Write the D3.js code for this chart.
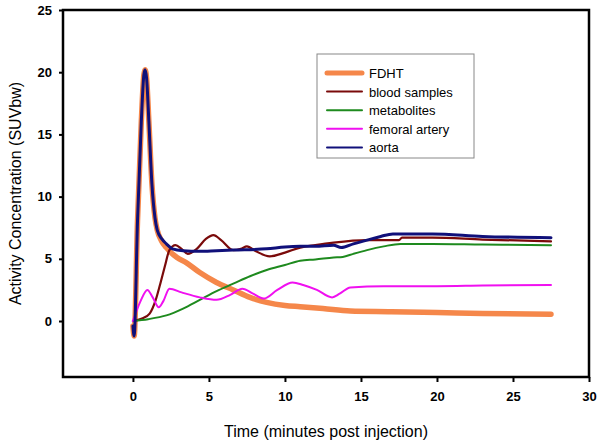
<!DOCTYPE html>
<html><head><meta charset="utf-8">
<script src="https://cdn.jsdelivr.net/npm/d3@7"></script>
<style>body{margin:0;background:#fff}svg{display:block}</style>
</head><body>
<svg id="c" width="600" height="443"></svg>
<script>
const xTicks = [0, 5, 10, 15, 20, 25, 30];
const yTicks = [0, 5, 10, 15, 20, 25];
const seriesNames = ["FDHT", "blood samples", "metabolites", "femoral artery", "aorta"];
const seriesColors = ["#F5874A", "#7A0A0A", "#1E8A1E", "#F010F0", "#10107A"];
const seriesWidths = [5.5, 2.2, 2, 2, 3];

const fdht = [[0,-0.4],[0.08,-1.2],[0.3,8],[0.55,16],[0.72,19.8],[0.8,20.2],[0.9,19.5],[1.05,16],[1.25,11],[1.45,8.3],[1.6,7.3],[1.9,6.4],[2.2,5.9],[2.9,5.1],[3.5,4.7],[4.4,3.9],[5.5,3.1],[6.6,2.5],[7.7,1.9],[8.8,1.5],[10,1.25],[11,1.15],[12.5,1.0],[14.3,0.8],[17,0.75],[20,0.68],[23,0.6],[27.5,0.55]];
const blood = [[0,0],[0.6,0.2],[1.1,0.6],[1.5,1.7],[1.8,3.0],[2.1,4.4],[2.4,5.7],[2.8,6.1],[3.2,5.8],[3.6,5.4],[4.2,5.8],[4.8,6.6],[5.3,6.9],[5.8,6.5],[6.6,5.7],[7.1,5.8],[7.5,6.0],[8.1,5.6],[9,5.2],[10,5.5],[11,5.9],[12,6.1],[13.2,6.3],[15.4,6.5],[17.5,6.5],[17.7,6.7],[19.7,6.7],[23,6.55],[27.5,6.4]];
const metabolites = [[0,0],[1,0.15],[2.2,0.45],[3.3,1.0],[4.4,1.7],[5.5,2.4],[6.6,3.0],[7.7,3.6],[8.8,4.1],[10,4.5],[11,4.85],[12,4.95],[13.2,5.1],[13.8,5.15],[14.5,5.4],[15.4,5.7],[16.5,6.0],[17.6,6.2],[19.7,6.2],[23,6.15],[27.5,6.1]];
const femoral = [[0,0],[0.5,1.6],[0.95,2.5],[1.3,1.9],[1.7,1.1],[2.0,1.6],[2.4,2.6],[3.2,2.3],[4.4,1.9],[5.5,1.7],[6.4,2.1],[7.2,2.6],[7.9,2.2],[8.6,1.8],[9.5,2.5],[10.5,3.1],[11.2,2.9],[12.1,2.5],[13.1,1.9],[13.6,2.2],[14.3,2.7],[16.5,2.8],[20,2.8],[23,2.85],[27.5,2.9]];
const aorta = [[0,-0.4],[0.08,-1.2],[0.3,8],[0.55,16],[0.72,19.8],[0.8,20.2],[0.9,19.5],[1.05,16],[1.25,11],[1.45,8.3],[1.6,7.3],[1.9,6.6],[2.2,6.2],[2.6,5.8],[3.3,5.65],[4.4,5.6],[5.5,5.65],[6.6,5.7],[8.8,5.8],[10,5.95],[11,6.0],[12,6.0],[13.2,6.1],[13.7,5.9],[14.5,6.2],[15.4,6.5],[16.3,6.8],[17.1,7.0],[19.7,7.0],[23,6.8],[27.5,6.7]];
const allSeries = [fdht, blood, metabolites, femoral, aorta];

const svg = d3.select("#c");
const L = 63, R = 589, T = 10, B = 377;
const x = d3.scaleLinear().domain([-4.6, 30]).range([L, R]);
const y = d3.scaleLinear().domain([-4.5, 25]).range([B, T]);

const line = d3.line().x(d => x(d[0])).y(d => y(d[1])).curve(d3.curveMonotoneX);
allSeries.forEach((s, i) => {
  svg.append("path").attr("d", line(s)).attr("fill", "none")
    .attr("stroke", seriesColors[i]).attr("stroke-width", seriesWidths[i])
    .attr("stroke-linejoin", "round").attr("stroke-linecap", "round");
});

// frame
svg.append("rect").attr("x", L).attr("y", T).attr("width", R - L).attr("height", B - T)
  .attr("fill", "none").attr("stroke", "#000").attr("stroke-width", 2.5);

const xa = svg.append("g").attr("transform", `translate(0,${B})`)
  .call(d3.axisBottom(x).tickValues(xTicks).tickSize(5).tickPadding(10));
const ya = svg.append("g").attr("transform", `translate(${L},0)`)
  .call(d3.axisLeft(y).tickValues(yTicks).tickSize(4).tickPadding(7));
[xa, ya].forEach(a => {
  a.select(".domain").remove();
  a.selectAll("line").attr("stroke", "#000").attr("stroke-width", 2);
  a.selectAll("text").attr("font-family", "Liberation Sans, Arial, sans-serif")
    .attr("font-size", 13).attr("font-weight", "bold").attr("fill", "#000");
});

svg.append("text").attr("x", (L + R) / 2).attr("y", 437).attr("text-anchor", "middle")
  .attr("font-family", "Liberation Sans, Arial, sans-serif").attr("font-size", 16)
  .text("Time (minutes post injection)");
svg.append("text").attr("transform", `translate(21,${(T + B) / 2}) rotate(-90)`)
  .attr("text-anchor", "middle")
  .attr("font-family", "Liberation Sans, Arial, sans-serif").attr("font-size", 16)
  .text("Activity Concentration (SUVbw)");

// legend
const lg = svg.append("g");
lg.append("rect").attr("x", 317).attr("y", 54).attr("width", 157).attr("height", 104)
  .attr("fill", "#fff").attr("stroke", "#888").attr("stroke-width", 1);
seriesNames.forEach((n, i) => {
  const yy = 73 + i * 18.6;
  lg.append("line").attr("x1", 327).attr("x2", 362).attr("y1", yy).attr("y2", yy)
    .attr("stroke", seriesColors[i]).attr("stroke-width", i === 0 ? 5 : 2)
    .attr("stroke-linecap", "round");
  lg.append("text").attr("x", 369).attr("y", yy + 5)
    .attr("font-family", "Liberation Sans, Arial, sans-serif").attr("font-size", 13)
    .attr("fill", "#000").text(n);
});
</script>
</body></html>
